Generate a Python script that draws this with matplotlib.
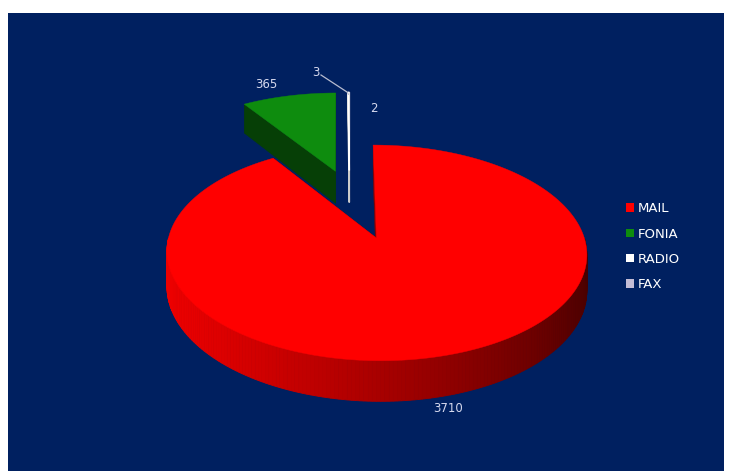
import numpy as np
import matplotlib
matplotlib.use("Agg")
import matplotlib.pyplot as plt
from matplotlib.patches import Polygon, Rectangle, Patch
from matplotlib.colors import to_rgb

# ---- data ----
categories = ["MAIL", "FONIA", "RADIO", "FAX"]
values = [3710, 365, 3, 2]
value_labels = ["3710", "365", "3", "2"]
top_colors = ["#FF0000", "#0E8C0E", "#FFFFFF", "#C4BDD6"]
explode = [0.46, 0.26, 0.26, 0.26]

# ---- projection parameters (pixel space) ----
CX, CY = 349.5, 194.0
R, RT, P, H = 196.0, 94.0, 0.13, 33.0

def proj(X, Y, Z):
    s = 1.0 / (1.0 + P * Y)
    sx = CX + R * X * s
    sy = CY - RT * Y * s + H * (1 - Z) * s
    return sx, sy

def shade(c, f):
    return tuple(np.clip(np.array(to_rgb(c)) * f, 0, 1))

fig = plt.figure(figsize=(7.31, 4.71), dpi=100)
fig.patch.set_facecolor("white")
ax = fig.add_axes([0, 0, 1, 1])
ax.set_xlim(0, 731)
ax.set_ylim(471, 0)
ax.axis("off")
ax.add_patch(Rectangle((8, 13), 716, 460, facecolor="#002060", edgecolor="none", zorder=0))

total = float(sum(values))
cum = np.concatenate([[0], np.cumsum(values)])
a_hi = [90 - cum[i] * 360 / total for i in range(len(values))]
a_lo = [90 - cum[i + 1] * 360 / total for i in range(len(values))]

geo = []
for i in range(len(values)):
    mid = np.radians((a_hi[i] + a_lo[i]) / 2)
    ox, oy = explode[i] * np.cos(mid), explode[i] * np.sin(mid)
    geo.append((ox, oy))

def draw_slice(i, z):
    ox, oy = geo[i]
    lo, hi = a_lo[i], a_hi[i]
    col = top_colors[i]
    thin = (hi - lo) < 2
    lw = 0.9 if thin else 0.3
    # outer side (front-facing part)
    for k in range(-2, 3):
        slo = max(lo, -180 + 360 * k)
        shi = min(hi, 360 * k)
        if shi > slo:
            n = max(2, int((shi - slo) / 1.0) + 1)
            ang = np.linspace(slo, shi, n)
            for j in range(n - 1):
                a0, a1 = np.radians(ang[j]), np.radians(ang[j + 1])
                am = np.degrees((a0 + a1) / 2)
                f = 0.6 + 0.33 * np.cos(np.radians(am - 190))
                pts = [proj(ox + np.cos(a0), oy + np.sin(a0), 1),
                       proj(ox + np.cos(a1), oy + np.sin(a1), 1),
                       proj(ox + np.cos(a1), oy + np.sin(a1), 0),
                       proj(ox + np.cos(a0), oy + np.sin(a0), 0)]
                c = shade(col, f)
                ax.add_patch(Polygon(pts, closed=True, facecolor=c, edgecolor=c,
                                     linewidth=0.6, zorder=z))
    # cut faces
    fcut = 0.45 if i == 1 else 0.55
    for a in (lo, hi):
        ar = np.radians(a)
        pts = [proj(ox, oy, 1), proj(ox + np.cos(ar), oy + np.sin(ar), 1),
               proj(ox + np.cos(ar), oy + np.sin(ar), 0), proj(ox, oy, 0)]
        c = shade(col, fcut if not thin else 0.8)
        ax.add_patch(Polygon(pts, closed=True, facecolor=c, edgecolor=c,
                             linewidth=lw, zorder=z + 0.1))
    # top face
    ang = np.radians(np.linspace(lo, hi, max(3, int(hi - lo) + 2)))
    pts = [proj(ox, oy, 1)] + [proj(ox + np.cos(a), oy + np.sin(a), 1) for a in ang]
    ax.add_patch(Polygon(pts, closed=True, facecolor=col, edgecolor=col,
                         linewidth=lw, zorder=z + 0.2))

for z, i in enumerate([1, 3, 2, 0]):
    draw_slice(i, 2 + z)

# ---- data labels ----
lab_col = "#D6D9EE"
lab_pos = [(448, 408), (266, 85), (316, 72), (374, 109)]
for i, (x, y) in enumerate(lab_pos):
    ax.text(x, y, value_labels[i], color=lab_col, fontsize=8.5, ha="center",
            va="center", fontfamily="DejaVu Sans", zorder=20)

# leader line for RADIO
ox, oy = geo[2]
am = np.radians((a_hi[2] + a_lo[2]) / 2)
tx, ty = proj(ox + np.cos(am), oy + np.sin(am), 1)
ax.plot([321, tx - 1, tx], [75, ty, ty + 2], color="#B8BCD0", lw=0.9, zorder=20)

# ---- legend ----
handles = [Patch(facecolor=c, edgecolor="none") for c in top_colors]
leg = ax.legend(handles, categories, loc="upper left",
                bbox_to_anchor=(617 / 731, 1 - 193 / 471), frameon=False,
                fontsize=9.5, labelcolor="white", handlelength=0.6,
                handleheight=0.6, handletextpad=0.25, labelspacing=0.93,
                borderpad=0.2)
leg.set_zorder(30)

fig.savefig("out.png", dpi=100, facecolor="white")
